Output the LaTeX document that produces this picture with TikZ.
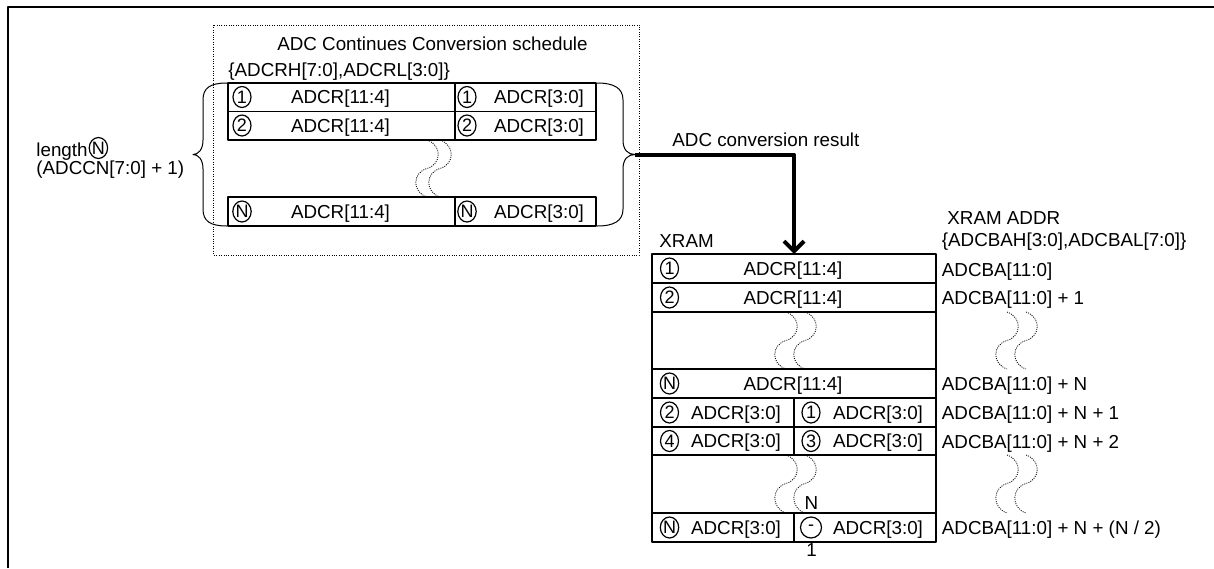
\documentclass[tikz,border=0pt]{standalone}
\usepackage{fontspec}
\setmainfont{Liberation Sans}
\usetikzlibrary{arrows.meta,shapes.geometric,positioning}

\tikzset{
  txt/.style={inner sep=0pt,anchor=west,text height=6.73pt,text depth=0pt},
  ctxt/.style={inner sep=0pt,text height=6.73pt,text depth=0pt},
  num/.style={draw,ellipse,inner sep=0pt,minimum width=9pt,minimum height=10.5pt,line width=0.6pt,font=\fontsize{9}{9}\selectfont},
  tline/.style={line width=0.7pt},
  brk/.style={line width=0.4pt,dash pattern=on 0.5pt off 0.6pt},
  flow/.style={line width=2pt,-{Straight Barb[length=5pt,width=10pt]}},
}

\begin{document}
\begin{tikzpicture}[x=0.5pt,y=-0.5pt,line join=round,font=\fontsize{9.4}{11}\selectfont]
	\useasboundingbox (0,0) rectangle (1214,568);
	\draw[line width=1pt] (8,568) -- (8,7) -- (1214,7);
	
	% conversion schedule
	\draw[line width=0.4pt,dash pattern=on 0.5pt off 0.7pt] (213.5,25) rectangle (639.5,255);
	\node[ctxt] (title) at (432.5,44) {ADC Continues Conversion schedule};
	\node[txt] (regs) at (228,70) {\{ADCRH[7:0],ADCRL[3:0]\}};
	\draw[tline] (228,83) rectangle (596,140);
	\draw[tline] (228,111.5) -- (596,111.5);
	\draw[tline] (455,83) -- (455,140);
	\draw[tline] (228,197) rectangle (596,226);
	\draw[tline] (455,197) -- (455,226);
	\foreach \ry/\rn [count=\i] in {97/1,125.5/2,211.5/N}{
		\node[num] (sa\i) at (242,\ry) {\rn};
		\node[ctxt] (sb\i) at (340.5,\ry) {ADCR[11:4]};
		\node[num] (sc\i) at (467,\ry) {\rn};
		\node[ctxt] (sd\i) at (539,\ry) {ADCR[3:0]};
	}
	\draw[line width=0.5pt] (227,83) .. controls (210,83) and (203,88) .. (203,100) -- (203,140) .. controls (203,150) and (198,154.5) .. (193,154.5) .. controls (198,154.5) and (203,159) .. (203,169) -- (203,209) .. controls (203,221) and (210,226) .. (227,226);
	\draw[line width=0.5pt] (597,83) .. controls (614,83) and (623,88) .. (623,100) -- (623,140) .. controls (623,150) and (628,154.5) .. (635,154.5) .. controls (628,154.5) and (623,159) .. (623,169) -- (623,209) .. controls (623,221) and (614,226) .. (597,226);
	\coordinate (tipR) at (635,154.5);
	\node[txt] (len) at (36,150) {length};
	\node[num,right=0.3pt of len,yshift=1pt] (lenN) {N};
	\node[txt] (cnt) at (36,167.5) {(ADCCN[7:0] + 1)};
	
	% result into XRAM
	\node[txt] (res) at (672,140) {ADC conversion result};
	\coordinate (xTop) at (794,254);
	\draw[flow] (tipR) -| (xTop);
	
	% XRAM
	\node[txt] (xram) at (659,240.5) {XRAM};
	\node[txt] (addr) at (947,218) {XRAM ADDR};
	\node[txt] (base) at (941.5,240) {\{ADCBAH[3:0],ADCBAL[7:0]\}};
	\draw[tline] (652,254) rectangle (936,542);
	\foreach \ly in {283,312,369,398,427,455,513}{
		\draw[tline] (652,\ly) -- (936,\ly);
	}
	\draw[tline] (794,398) -- (794,455);
	\draw[tline] (794,513) -- (794,542);
	\foreach \ry/\rn [count=\i] in {268.5/1,297.5/2,383.5/N}{
		\node[num] (xa\i) at (669.5,\ry) {\rn};
		\node[ctxt] (xb\i) at (793,\ry) {ADCR[11:4]};
	}
	\foreach \ry/\rl/\rr [count=\i] in {412.5/2/1,441/4/3}{
		\node[num] (ya\i) at (669.5,\ry) {\rl};
		\node[ctxt] (yb\i) at (736,\ry) {ADCR[3:0]};
		\node[num] (yc\i) at (811,\ry) {\rr};
		\node[ctxt] (yd\i) at (878,\ry) {ADCR[3:0]};
	}
	\node[num] (ya3) at (669.5,527.5) {N};
	\node[ctxt] (yb3) at (736,527.5) {ADCR[3:0]};
	\node[num,minimum width=10.5pt,minimum height=10.5pt] (yc3) at (811,527.5) {-};
	\node[ctxt] (yd3) at (878,527.5) {ADCR[3:0]};
	\node[ctxt] (fracN) at (811.5,503) {N};
	\node[ctxt] (frac1) at (811.5,550) {1};
	\node[txt] (ad1) at (941.5,269.5) {ADCBA[11:0]};
	\node[txt] (ad2) at (941.5,298) {ADCBA[11:0] + 1};
	\node[txt] (ad3) at (941.5,384) {ADCBA[11:0] + N};
	\node[txt] (ad4) at (941.5,413) {ADCBA[11:0] + N + 1};
	\node[txt] (ad5) at (941.5,441.5) {ADCBA[11:0] + N + 2};
	\node[txt] (ad6) at (941.5,528) {ADCBA[11:0] + N + (N / 2)};
	
	% break marks
	\foreach \bx/\bt/\bb in {427/140/197,440/140/197,786/312/369,805/312/369,786/455/513,805/455/513,1007/312/369,1026/312/369,1007/455/513,1026/455/513}{
		\draw[brk] (\bx,\bt) .. controls (\bx+15,\bt+5) and (\bx+15,\bt+24) .. (\bx,\bt+28.5) .. controls (\bx-15,\bt+33) and (\bx-15,\bb-5) .. (\bx,\bb);
	}
\end{tikzpicture}
\end{document}
